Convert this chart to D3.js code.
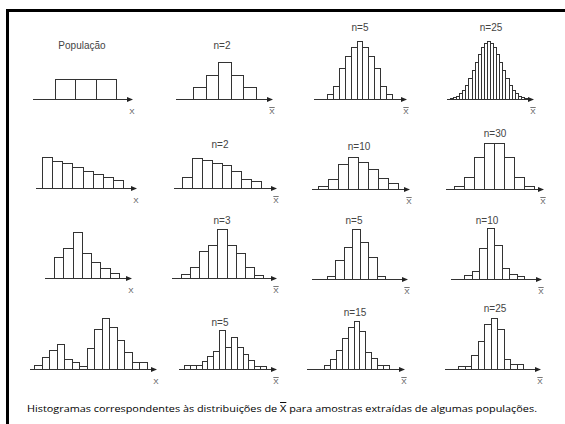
<!DOCTYPE html>
<html><head><meta charset="utf-8">
<script src="https://cdn.jsdelivr.net/npm/d3@7"></script>
<style>body{margin:0;background:#fff}svg{display:block}</style>
</head><body><svg id="c" width="565" height="424"></svg>
<script>
// ---- data (relative frequencies) ----
const titles = ["População","n=2","n=5","n=25","","n=2","n=10","n=30","","n=3","n=5","n=10","","n=5","n=15","n=25"];
const isPopulation = [true,false,false,false,true,false,false,false,true,false,false,false,true,false,false,false];
const popUniform  = [20,20,20];
const uniformN2   = [12,24,37,24,12];
const uniformN5   = [5,13,31,43,52,58,52,43,31,13,5];
const uniformN25  = [1,1.9,3.4,5.8,9.5,14.5,20.9,28.6,36.9,44.9,51.8,56.4,58,56.4,51.8,44.9,36.9,28.6,20.9,14.5,9.5,5.8,3.4,1.9,1];
const popSkewed   = [31,27,25,21,17,14,11,8];
const skewedN2    = [11,30,28,25,23,17,9,7];
const skewedN10   = [3,10,25,32,27,20,11,6];
const skewedN30   = [3,12,32,46,46,32,12,3];
const popRight    = [21,30,46,25,16,10,5];
const rightN3     = [4,11,27,33,49,33,25,11,3];
const rightN5     = [3,19,32,50,37,22,3];
const rightN10    = [4,8,31,51,34,11,5,3];
const popBimodal  = [4,12,19,25,10,7,3,21,40,51,42,29,17,7,7];
const bimodalN5   = [4,4,4,8,13,18,39,22,32,22,15,9,3,3];
const bimodalN15  = [4,10,19,31,42,48,38,17,11,4,4];
const bimodalN25  = [3,3,14,28,45,51,40,10,5,5];
const series = [popUniform,uniformN2,uniformN5,uniformN25,popSkewed,skewedN2,skewedN10,skewedN30,
                popRight,rightN3,rightN5,rightN10,popBimodal,bimodalN5,bimodalN15,bimodalN25];
const caption = ["Histogramas correspondentes às distribuições de ","X"," para amostras extraídas de algumas populações."];

// ---- layout (pixels) ----
const layout = [
 {ax:[33,133], bx:[55,116], base:99,  ty:49,  tx:82},
 {ax:[176,273],bx:[193,256],base:99,  ty:49,  tx:222},
 {ax:[314,407],bx:[327,392],base:99,  ty:31,  tx:360},
 {ax:[447,534],bx:[450,527],base:99,  ty:31,  tx:491},
 {ax:[36,137], bx:[42,123], base:188, ty:0,   tx:0},
 {ax:[174,277],bx:[182,261],base:188, ty:148, tx:220},
 {ax:[312,410],bx:[318,398],base:189, ty:150, tx:359},
 {ax:[446,544],bx:[454,534],base:189, ty:137, tx:495},
 {ax:[45,132], bx:[54,119], base:278, ty:0,   tx:0},
 {ax:[172,277],bx:[181,263],base:278, ty:224, tx:222},
 {ax:[312,408],bx:[327,385],base:279, ty:224, tx:354},
 {ax:[451,542],bx:[464,524],base:279, ty:224, tx:487},
 {ax:[30,157], bx:[34,147], base:369, ty:0,   tx:0},
 {ax:[179,277],bx:[184,266],base:369, ty:326, tx:220},
 {ax:[307,405],bx:[324,389],base:369, ty:316, tx:355},
 {ax:[445,541],bx:[458,523],base:369, ty:312, tx:495}
];

const svg = d3.select("#c");
// frame (top and left edges)
svg.append("rect").attr("x",6).attr("y",9).attr("width",559).attr("height",3).attr("fill","#000");
svg.append("rect").attr("x",6).attr("y",9).attr("width",3).attr("height",415).attr("fill","#000");

const h = d3.scaleLinear().domain([0,60]).range([0,60]);
const stroke = "#333";

series.forEach((vals,i)=>{
  const L = layout[i];
  const g = svg.append("g");
  const xb = d3.scaleBand().domain(d3.range(vals.length)).range(L.bx).paddingInner(0);
  const y = d3.scaleLinear().domain([0,60]).range([L.base, L.base - h(60)]);
  g.selectAll("rect").data(vals).join("rect")
    .attr("x", (d,k)=>Math.round(xb(k))+0.5)
    .attr("y", d=>Math.round(y(d))+0.5)
    .attr("width", (d,k)=>Math.round(xb(k)+xb.bandwidth())-Math.round(xb(k)))
    .attr("height", d=>Math.round(L.base)-Math.round(y(d)))
    .attr("fill","#fff").attr("stroke",stroke).attr("stroke-width",1);
  // axis line
  const yb = Math.round(L.base)+0.5;
  g.append("line").attr("x1",L.ax[0]).attr("x2",L.ax[1]-4).attr("y1",yb).attr("y2",yb)
    .attr("stroke",stroke).attr("stroke-width",1);
  g.append("path").attr("d",`M${L.ax[1]},${yb} L${L.ax[1]-6},${yb-2.5} L${L.ax[1]-6},${yb+2.5} Z`).attr("fill","#222");
  // axis label
  g.append("text").attr("x",L.ax[1]-1).attr("y",L.base+15).attr("text-anchor","middle")
    .attr("font-family","Liberation Sans, Arial, sans-serif").attr("font-size",8).attr("fill","#555")
    .style("text-decoration", isPopulation[i] ? "none" : "overline")
    .text("X");
  if (titles[i]) {
    g.append("text").attr("x",L.tx).attr("y",L.ty).attr("text-anchor","middle")
      .attr("font-family","Liberation Sans, Arial, sans-serif").attr("font-size",10).attr("fill","#444")
      .text(titles[i]);
  }
});

const cap = svg.append("text").attr("x",282).attr("y",412).attr("text-anchor","middle")
  .attr("font-family","Open Sans, DejaVu Sans, sans-serif").attr("font-size",9.5).attr("fill","#000")
  .attr("textLength",510).attr("lengthAdjust","spacingAndGlyphs");
cap.append("tspan").text(caption[0]);
cap.append("tspan").style("text-decoration","overline").text(caption[1]);
cap.append("tspan").text(caption[2]);
</script></body></html>
